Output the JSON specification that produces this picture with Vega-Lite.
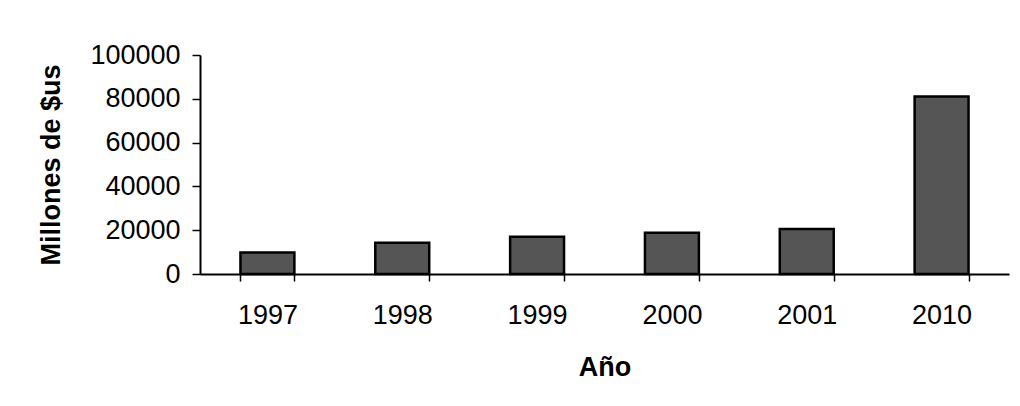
{
  "$schema": "https://vega.github.io/schema/vega-lite/v6.json",
  "autosize": "none",
  "width": 809,
  "height": 219,
  "padding": {"left": 200, "top": 55, "right": 11, "bottom": 132},
  "background": "white",
  "config": {
    "view": {"stroke": null},
    "font": "Liberation Sans"
  },
  "data": {
    "values": [
      {"anio": "1997", "valor": 9800},
      {"anio": "1998", "valor": 14300},
      {"anio": "1999", "valor": 17000},
      {"anio": "2000", "valor": 18800},
      {"anio": "2001", "valor": 20500},
      {"anio": "2010", "valor": 81000}
    ]
  },
  "mark": {"type": "bar", "fill": "#555555", "stroke": "#000000", "strokeWidth": 2.5},
  "encoding": {
    "x": {
      "field": "anio",
      "type": "ordinal",
      "sort": null,
      "scale": {"paddingInner": 0.6, "paddingOuter": 0.3},
      "axis": {
        "title": "Año",
        "titleFont": "Liberation Sans",
        "titleFontSize": 27,
        "titleFontWeight": "bold",
        "titleColor": "#000000",
        "titlePadding": 26,
        "labelFont": "Liberation Sans",
        "labelFontSize": 27,
        "labelColor": "#000000",
        "labelAngle": 0,
        "labelPadding": 21,
        "domainColor": "#000000",
        "domainWidth": 2,
        "tickColor": "#000000",
        "tickWidth": 1.5,
        "tickSize": 7,
        "tickBand": "extent"
      }
    },
    "y": {
      "field": "valor",
      "type": "quantitative",
      "scale": {"domain": [0, 100000], "nice": false},
      "axis": {
        "title": "Millones de $us",
        "titleFont": "Liberation Sans",
        "titleFontSize": 27,
        "titleFontWeight": "bold",
        "titleColor": "#000000",
        "titlePadding": 24,
        "values": [0, 20000, 40000, 60000, 80000, 100000],
        "format": "d",
        "labelFont": "Liberation Sans",
        "labelFontSize": 27,
        "labelColor": "#000000",
        "labelPadding": 12,
        "grid": false,
        "domainColor": "#000000",
        "domainWidth": 2,
        "tickColor": "#000000",
        "tickWidth": 1.5,
        "tickSize": 8
      }
    }
  }
}
